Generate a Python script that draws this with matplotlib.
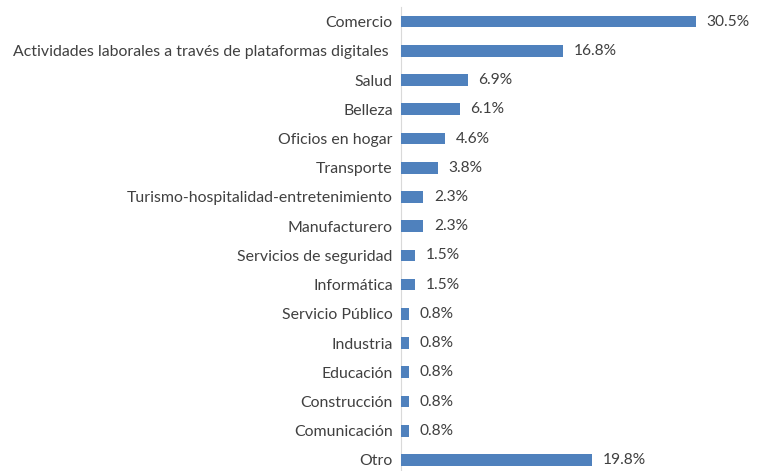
import matplotlib.pyplot as plt

categories = ["Comercio", "Actividades laborales a través de plataformas digitales ",
              "Salud", "Belleza", "Oficios en hogar", "Transporte",
              "Turismo-hospitalidad-entretenimiento", "Manufacturero",
              "Servicios de seguridad", "Informática", "Servicio Público",
              "Industria", "Educación", "Construcción", "Comunicación", "Otro"]
values = [30.5, 16.8, 6.9, 6.1, 4.6, 3.8, 2.3, 2.3, 1.5, 1.5, 0.8, 0.8, 0.8, 0.8, 0.8, 19.8]

plt.rcParams['font.family'] = ['Lato', 'DejaVu Sans']

fig = plt.figure(figsize=(7.6, 4.71), dpi=100)
# plot area runs a little past the bottom edge, as in the reference
ax = fig.add_axes([0.5276, -0.0076, 0.509, 0.9927])

pos = list(range(len(categories)))
ax.barh(pos, values, height=0.4, color="#4F81BD", zorder=3)
for p, v in zip(pos, values):
    ax.text(v + 1.1, p, f"{v:.1f}%", va="center", ha="left",
            fontsize=11.2, color="#404040")

ax.set_yticks(pos)
ax.set_yticklabels(categories, fontsize=11.4, color="#404040")
ax.set_ylim(15.5, -0.5)
ax.set_xlim(0, 40)
ax.set_xticks([0, 10, 20, 30, 40])
ax.xaxis.set_visible(False)
ax.grid(axis="x", color="#D9D9D9", linewidth=1, zorder=0)
ax.tick_params(axis="y", length=0, pad=6)
for s in ["top", "right", "bottom"]:
    ax.spines[s].set_visible(False)
ax.spines["left"].set_color("#D9D9D9")

fig.savefig("out.png", dpi=100)
